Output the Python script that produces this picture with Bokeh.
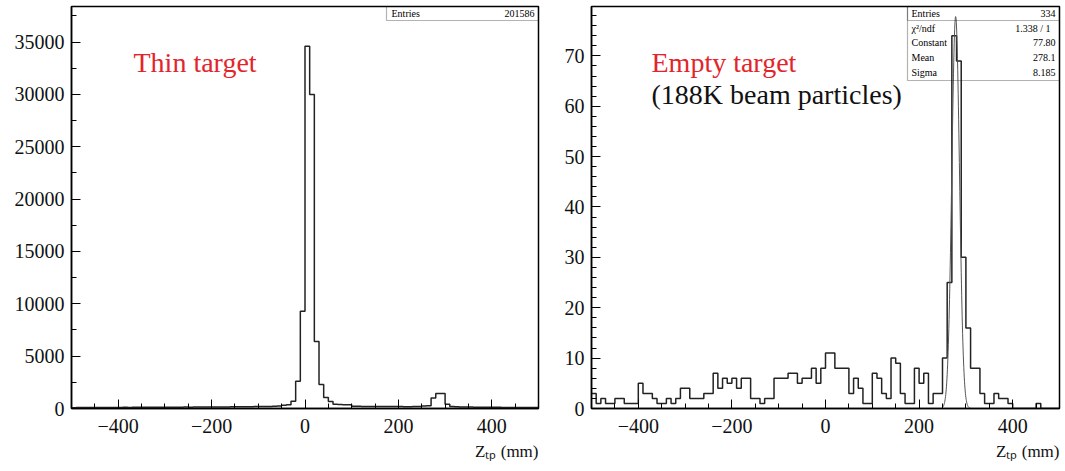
import numpy as np
from bokeh.plotting import figure
from bokeh.models import Range1d, SingleIntervalTicker, Label, BoxAnnotation, Title
from bokeh.layouts import row
from bokeh.embed import file_html
from bokeh.resources import INLINE

# ---------------- data ----------------
z_lo, z_hi, n_bins = -500.0, 500.0, 100

thin_counts = [
    80, 90, 85, 95, 90, 100, 95, 100, 105, 100,
    100, 110, 105, 110, 115, 110, 120, 115, 120, 125,
    120, 130, 125, 130, 135, 130, 140, 135, 145, 140,
    150, 145, 155, 150, 160, 165, 160, 170, 175, 180,
    185, 190, 200, 220, 250, 300, 350, 700, 2600, 9300,
    34600, 30000, 6400, 2300, 1050, 670, 400, 380, 370, 350,
    220, 210, 200, 200, 195, 190, 190, 185, 185, 180,
    180, 175, 175, 180, 190, 230, 260, 1000, 1430, 1430,
    400, 200, 160, 150, 140, 135, 130, 125, 120, 115,
    110, 110, 105, 100, 100, 95, 95, 90, 90, 85,
]

empty_counts = [
    3, 1, 2, 1, 1, 2, 2, 1, 1, 1,
    5, 3, 3, 2, 1, 1, 2, 1, 2, 4,
    4, 2, 2, 2, 3, 3, 7, 4, 6, 5,
    6, 4, 6, 6, 2, 2, 1, 2, 2, 6,
    6, 6, 7, 7, 5, 6, 6, 8, 5, 8,
    11, 11, 8, 8, 8, 3, 6, 4, 1, 1,
    7, 6, 3, 2, 10, 9, 3, 1, 1, 8,
    5, 7, 1, 3, 3, 10, 25, 74, 69, 30,
    16, 8, 8, 3, 1, 1, 3, 2, 2, 1,
    0, 0, 0, 0, 0, 1, 0, 0, 0, 0,
]

thin_stats_labels = ["Entries"]
thin_stats_values = ["201586"]
empty_stats_labels = ["Entries", "\u03c7\u00b2/ndf", "Constant", "Mean", "Sigma"]
empty_stats_values = ["334", "1.338  /  1", "77.80", "278.1", "8.185"]

fit_constant, fit_mean, fit_sigma = 77.80, 278.1, 8.185
fit_range = (250.0, 310.0)

x_axis_title = "Z\u209c\u209a (mm)"
x_ticks_major = 200
y_max_thin, y_max_empty = 38400, 79.8

# ---------------- style ----------------
SERIF = "Liberation Serif"
RED = "#e3242b"
LINE = "#222222"
FRAME_TOP, FRAME_BOTTOM = 6, 408
FIG_H = 469


def make_fig(width, mb_left, mb_right, y_max, y_interval, y_minor):
    p = figure(width=width, height=FIG_H, output_backend="svg", toolbar_location=None,
               x_range=Range1d(z_lo, z_hi), y_range=Range1d(0, y_max),
               min_border_left=mb_left, min_border_right=mb_right,
               min_border_top=FRAME_TOP, min_border_bottom=FIG_H - FRAME_BOTTOM, title=None)
    p.grid.visible = False
    p.background_fill_color = "white"
    p.border_fill_color = "white"
    p.outline_line_color = "black"
    p.outline_line_width = 1.5
    p.xaxis.ticker = SingleIntervalTicker(interval=x_ticks_major, num_minor_ticks=4)
    p.yaxis.ticker = SingleIntervalTicker(interval=y_interval, num_minor_ticks=y_minor)
    for ax in (p.xaxis, p.yaxis):
        ax.axis_line_color = "black"
        ax.axis_line_width = 1.5
        ax.major_tick_in = 9
        ax.major_tick_out = 0
        ax.minor_tick_in = 5
        ax.minor_tick_out = 0
        ax.major_tick_line_color = "black"
        ax.minor_tick_line_color = "black"
        ax.major_label_text_font = SERIF
        ax.major_label_text_font_size = "20px"
        ax.major_label_text_color = "#111111"
    p.yaxis.major_label_standoff = 7
    p.xaxis.major_label_standoff = 10
    t = Title(text=x_axis_title, align="right", text_font=SERIF, text_font_size="17px",
              text_font_style="normal", text_color="#111111", standoff=8)
    p.add_layout(t, "below")
    return p


def geom(left, width, x0, x1, y1):
    return dict(left=left, w=width, top=FRAME_TOP, bottom=FRAME_BOTTOM, x0=x0, x1=x1, y1=y1)


def gx(px, g):
    return g["x0"] + (px - g["left"]) / g["w"] * (g["x1"] - g["x0"])


def gy(py, g):
    return (g["bottom"] - py) / (g["bottom"] - g["top"]) * g["y1"]


def draw_hist(p, counts):
    edges = np.linspace(z_lo, z_hi, len(counts) + 1)
    yv = list(counts) + [counts[-1]]
    p.step(x=edges, y=yv, mode="after", line_color=LINE, line_width=1.5)


def add_text(p, g, px, py, text, size, color="black", align="left", baseline="alphabetic"):
    p.add_layout(Label(x=gx(px, g), y=gy(py, g), text=text, text_font=SERIF,
                       text_font_size=size, text_color=color, text_align=align,
                       text_baseline=baseline))


def add_box(p, g, l, r, t, b):
    p.add_layout(BoxAnnotation(left=gx(l, g), right=gx(r, g), top=gy(t, g), bottom=gy(b, g),
                               fill_alpha=0, line_color="black", line_width=1.2))


# ---------------- left panel ----------------
gl = geom(71, 467, z_lo, z_hi, y_max_thin)
p1 = make_fig(555, 71, 17, y_max_thin, 5000, 2)
draw_hist(p1, thin_counts)
add_text(p1, gl, 133, 62, "Thin target", "28px", RED)
add_box(p1, gl, 386, 538, 6, 20)
for i, (lab, val) in enumerate(zip(thin_stats_labels, thin_stats_values)):
    add_text(p1, gl, 391, 13 + 14 * i, lab, "10px", baseline="middle")
    add_text(p1, gl, 534, 13 + 14 * i, val, "10px", align="right", baseline="middle")

# ---------------- right panel ----------------
gr = geom(591, 468, z_lo, z_hi, y_max_empty)
p2 = make_fig(508, 36, 4, y_max_empty, 10, 5)
draw_hist(p2, empty_counts)
xf = np.linspace(fit_range[0], fit_range[1], 121)
yf = fit_constant * np.exp(-0.5 * ((xf - fit_mean) / fit_sigma) ** 2)
p2.line(xf, yf, line_color="#555555", line_width=1.0)
add_text(p2, gr, 651, 62, "Empty target", "28px", RED)
add_text(p2, gr, 651, 94, "(188K beam particles)", "28px", "#111111")
add_box(p2, gr, 907, 1059, 6, 80)
add_box(p2, gr, 907, 1059, 6, 20)
row_y = [13, 27.5, 42, 57, 72]
for lab, val, yy in zip(empty_stats_labels, empty_stats_values, row_y):
    add_text(p2, gr, 911, yy, lab, "10px", baseline="middle")
    add_text(p2, gr, 1055, yy, val, "10px", align="right", baseline="middle")

layout = row(p1, p2)
open("out.html", "w").write(file_html(layout, INLINE))
